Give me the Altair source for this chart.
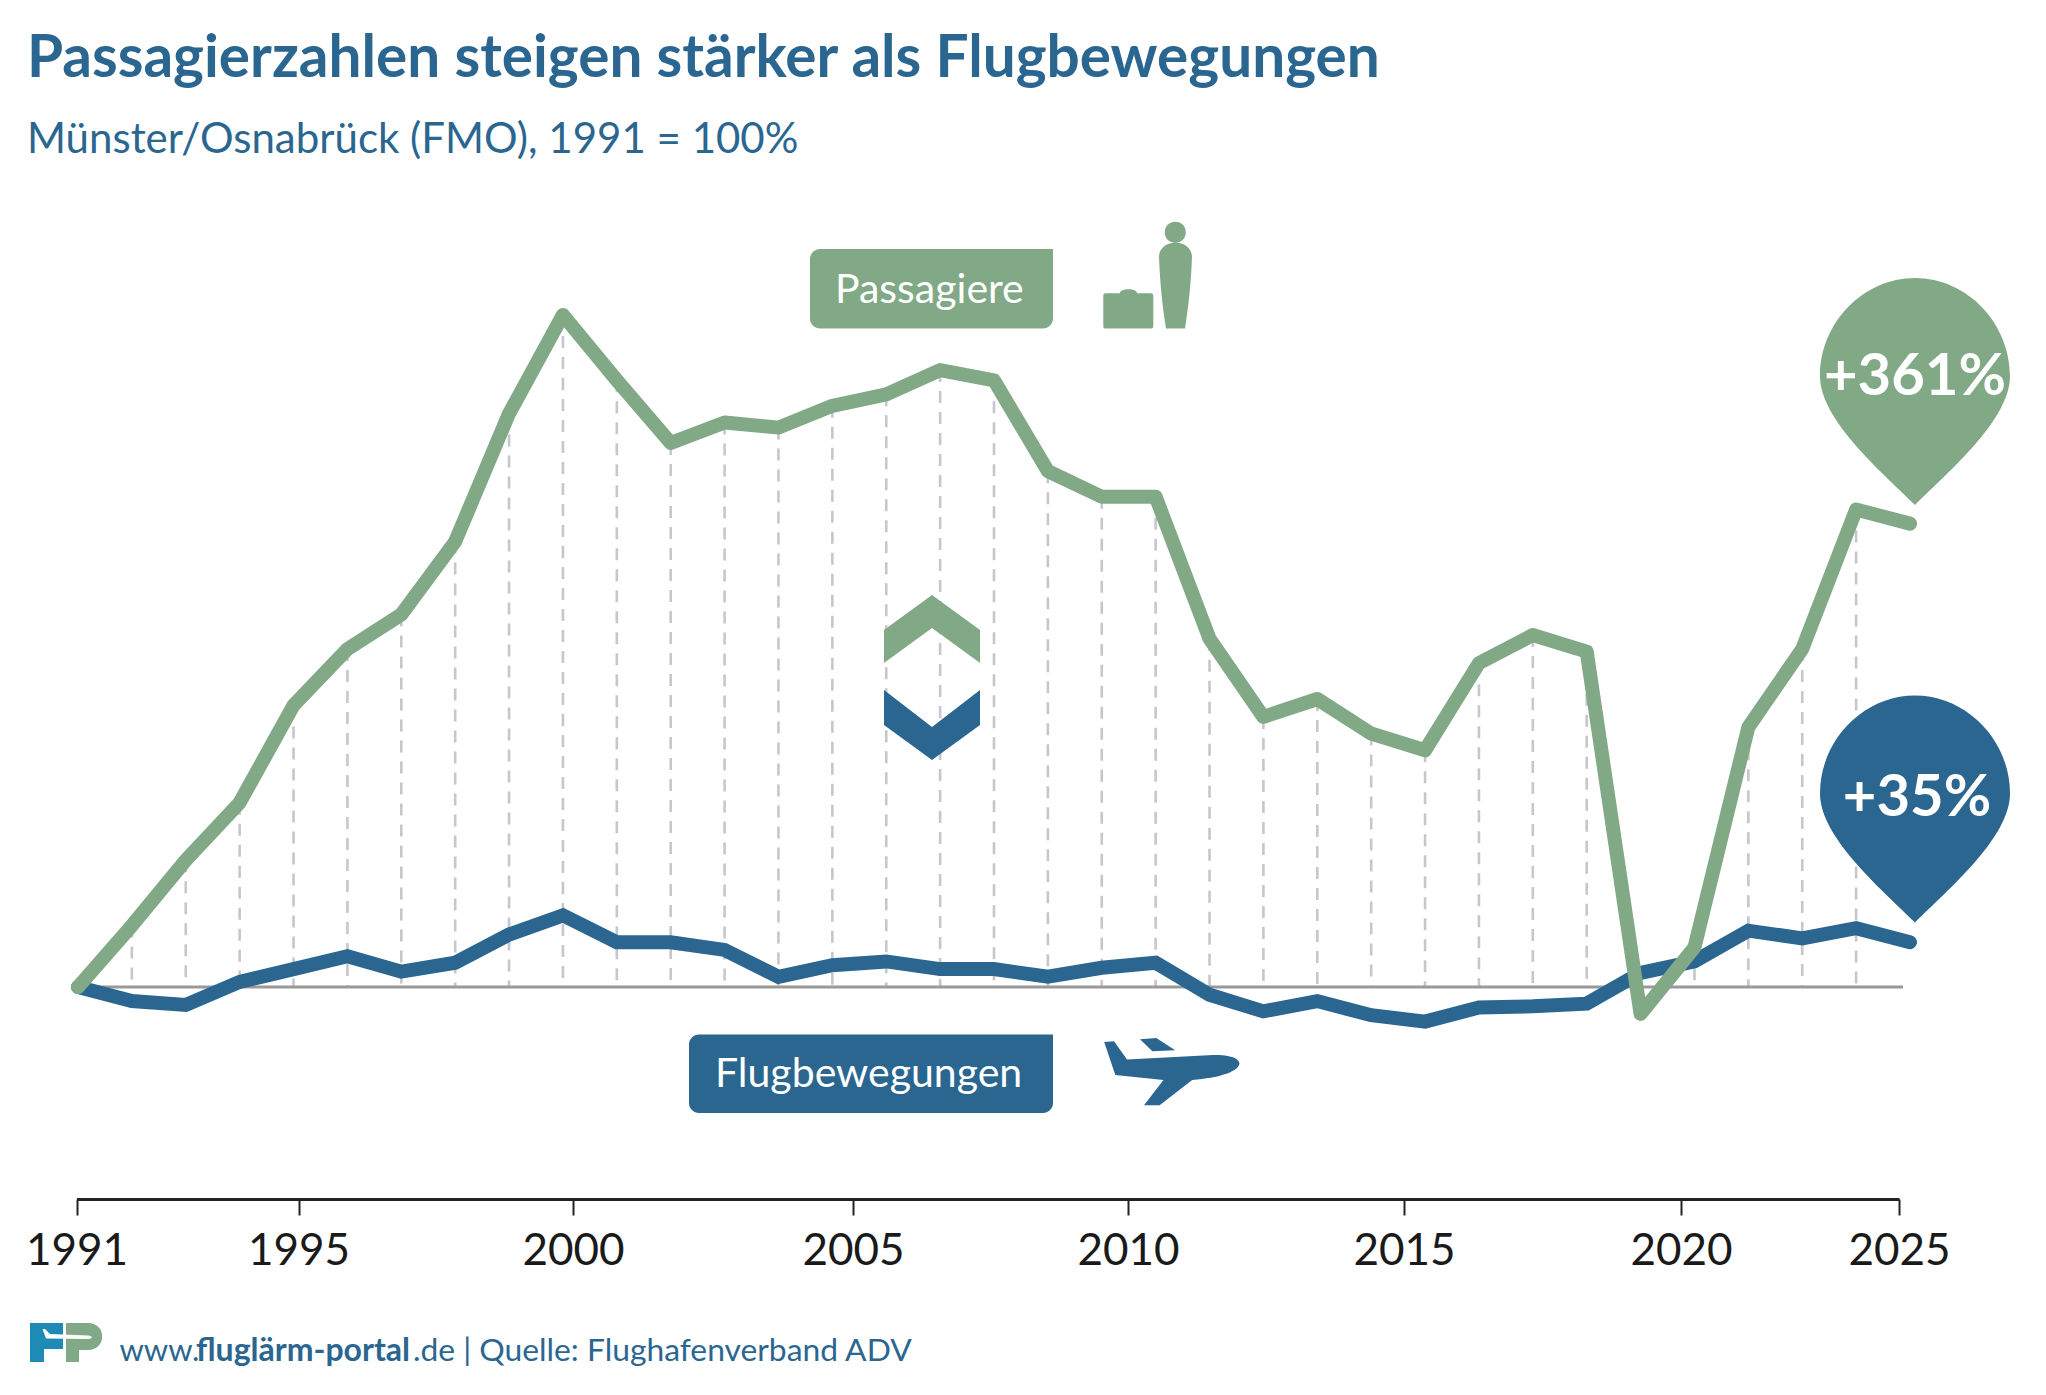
import altair as alt
import pandas as pd

# ---- data ----
years = list(range(1991, 2026))
passagiere = [100, 148, 199, 244, 320, 364, 391, 448, 548, 625, 574, 525, 541, 537, 554, 563, 582, 574,
              503, 483, 483, 372, 311, 325, 298, 285, 353, 375, 362, 79, 131, 303, 364, 473, 462]
flugbewegungen = [100, 89, 86, 104, 114, 124, 112, 119, 141, 156, 135, 135, 129, 108, 117, 120, 114, 114,
                  108, 115, 119, 94, 81, 89, 78, 73, 84, 85, 87, 111, 120, 144, 138, 146, 135]
tick_years = [1991, 1995, 2000, 2005, 2010, 2015, 2020, 2025]

BLUE = "#2a6690"
GREEN = "#82a986"
FONT = "Lato"
OX, OY = 78, 199          # page position of the plot area's corner
W, H = 1832, 1000

df = pd.DataFrame({"year": years, "p": passagiere, "f": flugbewegungen, "base": [100] * len(years)})
one = pd.DataFrame({"a": [0]})

x_data = alt.X("year:Q", axis=None, scale=alt.Scale(domain=[1991, 2025], nice=False, zero=False))
y_scale = alt.Scale(domain=[-65.6, 715.6], nice=False, zero=False)


def Y(field):
    return alt.Y(field, axis=None, scale=y_scale)


def px(v):
    return alt.value(v - OX)


def py(v):
    return alt.value(v - OY)


def glyph(cmds, cx, cy, r):
    out = []
    for c in cmds:
        nums = []
        for i, n in enumerate(c[1:]):
            nums.append(f"{(n - (cx if i % 2 == 0 else cy)) / r:.4f}")
        out.append(c[0] + " ".join(nums))
    return " ".join(out) + " Z"


def icon(cmds, cx, cy, r, color):
    return (alt.Chart(one)
            .mark_point(shape=glyph(cmds, cx, cy, r), filled=True, color=color, opacity=1, size=(2 * r) ** 2,
                        strokeWidth=0)
            .encode(x=px(cx), y=py(cy)))


def text(s, x, y, size, color, weight="normal", align="left"):
    return (alt.Chart(one)
            .mark_text(text=s, font=FONT, fontSize=size, fontWeight=weight, color=color, align=align,
                       baseline="alphabetic")
            .encode(x=px(x), y=py(y)))


def box(x0, x1, y0, y1, color):
    return (alt.Chart(one)
            .mark_rect(color=color, cornerRadiusTopLeft=10, cornerRadiusBottomLeft=10, cornerRadiusBottomRight=10)
            .encode(x=px(x0), x2=px(x1), y=py(y0), y2=py(y1)))


# dashed guides
guides = (alt.Chart(df)
          .transform_filter("datum.year > 1991 && datum.year < 2025 && datum.p > 100")
          .mark_rule(color="#c6c6cd", strokeWidth=2.6, strokeDash=[12, 9])
          .encode(x=x_data, y=Y("p:Q"), y2="base:Q"))

# 100 % line
base_df = pd.DataFrame({"a": [1991], "b": [2024.87], "v": [100]})
baseline = (alt.Chart(base_df)
            .mark_rule(color="#999999", strokeWidth=3)
            .encode(x=alt.X("a:Q", axis=None, scale=alt.Scale(domain=[1991, 2025], nice=False, zero=False)),
                    x2="b:Q", y=Y("v:Q")))

line_f = (alt.Chart(df)
          .mark_line(color=BLUE, strokeWidth=14, strokeCap="round", strokeJoin="miter")
          .encode(x=x_data, y=Y("f:Q")))
line_p = (alt.Chart(df)
          .mark_line(color=GREEN, strokeWidth=14, strokeCap="round", strokeJoin="round")
          .encode(x=x_data, y=Y("p:Q")))

# year axis, whose ticks sit on their own piecewise scale
tick_df = pd.DataFrame({"tick": tick_years})
axis_layer = (alt.Chart(tick_df)
              .mark_point(opacity=0)
              .encode(x=alt.X("tick:Q", title=None,
                              scale=alt.Scale(domain=tick_years, range=[-1.5, 220.5, 495, 775, 1050, 1326, 1603, 1821],
                                              nice=False, zero=False),
                              axis=alt.Axis(values=tick_years, format="d", grid=False, domainColor="#222222",
                                            domainWidth=3, tickColor="#222222", tickWidth=2, tickSize=16,
                                            labelFont=FONT, labelFontSize=44, labelColor="#1a1a1a", labelPadding=14,
                                            labelFlush=False, labelOverlap=False, labelBound=False)),
                      y=alt.value(0)))

# pins
pin = [("M", 0, 1), ("C", -0.30, 0.70, -0.837, 0.25, -0.837, -0.137),
       ("C", -0.837, -0.60, -0.46, -1, 0, -1), ("C", 0.46, -1, 0.837, -0.60, 0.837, -0.137),
       ("C", 0.837, 0.25, 0.30, 0.70, 0, 1)]


def pin_at(cx, cy, color):
    return (alt.Chart(one)
            .mark_point(shape=glyph(pin, 0, 0, 1), filled=True, color=color, opacity=1, size=227 ** 2, strokeWidth=0)
            .encode(x=px(cx), y=py(cy)))


pin_green = pin_at(1915, 391.5, GREEN)
pin_blue = pin_at(1915, 809, BLUE)

# chevrons
chev_up = icon([("M", 884, 630), ("L", 932, 595), ("L", 980, 630), ("L", 980, 663), ("L", 932, 628), ("L", 884, 663)],
               932, 629, 48, GREEN)
chev_dn = icon([("M", 884, 690), ("L", 932, 727), ("L", 980, 690), ("L", 980, 725), ("L", 932, 760), ("L", 884, 725)],
               932, 725, 48, BLUE)

# person with suitcase
person = icon([
    ("M", 1175.3, 221.8), ("C", 1189.3, 221.8, 1189.3, 242.8, 1175.3, 242.8), ("C", 1161.3, 242.8, 1161.3, 221.8, 1175.3, 221.8), ("Z",),
    ("M", 1159, 257), ("C", 1159, 238, 1192, 238, 1192, 257), ("C", 1191, 285, 1188, 310, 1185, 328.5), ("L", 1166, 328.5),
    ("C", 1163, 310, 1160, 285, 1159, 257), ("Z",),
    ("M", 1106, 293.3), ("L", 1120, 293.3), ("C", 1120, 288, 1137, 288, 1137, 293.3), ("L", 1150.5, 293.3),
    ("C", 1152.5, 293.3, 1153.3, 294, 1153.3, 296), ("L", 1153.3, 326), ("C", 1153.3, 328, 1152.5, 328.5, 1150.5, 328.5),
    ("L", 1106, 328.5), ("C", 1104, 328.5, 1103.3, 328, 1103.3, 326), ("L", 1103.3, 296),
    ("C", 1103.3, 294, 1104, 293.3, 1106, 293.3)],
    1147.5, 275, 54, GREEN)

# plane
plane = icon([
    ("M", 1104.2, 1041.9), ("L", 1114, 1041.3), ("L", 1127, 1059.4), ("L", 1213, 1055.1),
    ("C", 1252, 1054, 1250, 1076, 1192.2, 1079.9), ("L", 1159.6, 1105.3), ("L", 1144, 1105.3), ("L", 1163.5, 1079.9),
    ("L", 1115.3, 1074.9), ("Z",),
    ("M", 1140, 1039.3), ("L", 1156.3, 1038), ("L", 1175.2, 1050.2), ("L", 1152.4, 1051.2)],
    1171, 1072, 67, BLUE)

# logo
logo_f = icon([("M", 30, 1323), ("L", 63, 1323), ("L", 63, 1349), ("L", 44, 1349), ("L", 44, 1362), ("L", 30, 1362)],
              46, 1342, 20, "#1f8ab5")
logo_p = icon([("M", 66, 1323), ("L", 88, 1323), ("C", 107, 1323, 107, 1350, 88, 1350), ("L", 79, 1350), ("L", 79, 1362),
               ("L", 66, 1362)],
              84, 1342, 20, GREEN)
logo_plane = icon([("M", 42.5, 1329), ("L", 45, 1329), ("L", 50, 1334), ("L", 88, 1335.5), ("C", 93, 1336, 93, 1339, 88, 1339),
                   ("L", 46, 1338.5)],
                  67, 1334, 25, "#ffffff")

chart = alt.layer(
    guides, baseline, line_f, line_p, axis_layer,
    box(810, 1053, 249, 328.5, GREEN),
    text("Passagiere", 835, 303, 41, "#ffffff"),
    person,
    box(689, 1053, 1034.5, 1113, BLUE),
    text("Flugbewegungen", 715, 1087, 41, "#ffffff"),
    plane,
    chev_up, chev_dn,
    pin_green, text("+361%", 1915, 395, 58, "#ffffff", "bold", "center"),
    pin_blue, text("+35%", 1917, 816, 58, "#ffffff", "bold", "center"),
    logo_f, logo_p, logo_plane,
    text("www.", 119.5, 1361, 31, BLUE),
    text("fluglärm-portal", 196, 1361, 32, BLUE, "bold"),
    text(".de | Quelle: Flughafenverband ADV", 413, 1361, 31.8, BLUE),
).resolve_scale(x="independent").properties(
    width=W, height=H,
    title=alt.TitleParams(
        text="Passagierzahlen steigen stärker als Flugbewegungen", subtitle="Münster/Osnabrück (FMO), 1991 = 100%",
        anchor="start", frame="group", dx=-51, offset=34.5, font=FONT, fontSize=58.5, fontWeight="bold", color=BLUE,
        subtitleFont=FONT, subtitleFontSize=42, subtitleColor=BLUE, subtitlePadding=30),
    autosize=alt.AutoSizeParams(type="none"),
    padding={"left": OX - 8, "top": OY - 8, "right": 120, "bottom": 174},
).configure_view(stroke=None)

chart.save("out.html", embed_options={"renderer": "svg", "actions": False})
